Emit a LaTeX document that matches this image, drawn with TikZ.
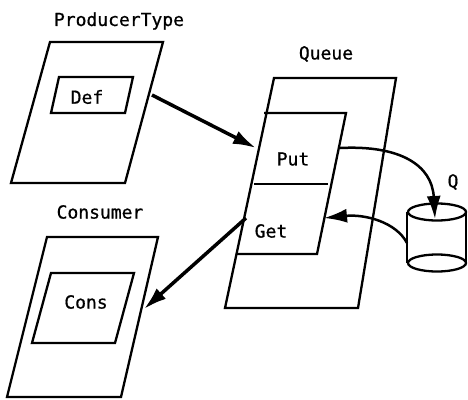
\documentclass[tikz,border=0pt]{standalone}
\usepackage{fontspec}
\setmainfont{DejaVu Sans Mono}
\newfontfamily\lblfont[FakeBold=0.7]{DejaVu Sans Mono}
\usetikzlibrary{arrows.meta}
\begin{document}
\begin{tikzpicture}[x=1pt,y=-1pt,
  outline/.style={line width=2.3pt, line join=miter},
  conn/.style={line width=3.5pt, -{Latex[length=23pt,width=14pt]}},
  lbl/.style={inner sep=0pt, font=\lblfont\fontsize{18}{21}\selectfont}]
\useasboundingbox (0,0) rectangle (468,399);
% ProducerType
\draw[outline] (50,42) -- (163,42) -- (125,183) -- (11,183) -- cycle;
\draw[outline] (59,77) -- (133,77) -- (125,113) -- (51,113) -- cycle;
\node[lbl] (ptlabel) at (119,21) {ProducerType};
\node[lbl] (def) at (87,97) {Def};
% Consumer
\draw[outline] (47,237) -- (158,237) -- (121,397) -- (7,397) -- cycle;
\draw[outline] (51,273) -- (134,273) -- (115,343) -- (32,343) -- cycle;
\node[lbl] (conslabel) at (100,212) {Consumer};
\node[lbl] (cons) at (86,302) {Cons};
% Queue
\draw[outline] (274,78) -- (396,78) -- (358,308) -- (225,308) -- cycle;
\draw[outline] (264,113) -- (346,113) -- (317,254) -- (237,254);
\draw[outline] (254,184) -- (328,184);
\node[lbl] (qlabel) at (326,54) {Queue};
\node[lbl] (put) at (293,159) {Put};
\node[lbl] (get) at (271,231) {Get};
% Cylinder Q
\draw[outline] (407,212) -- (407,263);
\draw[outline] (466,212) -- (466,263);
\draw[outline, fill=white] (437,263) ellipse [x radius=29, y radius=8.5];
\draw[outline] (437,212) ellipse [x radius=29, y radius=8.5];
\node[lbl] (q) at (453,182) {Q};
% connector ends
\coordinate (pOut) at (152,95);
\coordinate (qIn) at (256,148);
\coordinate (qOut) at (246,218);
\coordinate (cIn) at (144,309);
\coordinate (putOut) at (340,148);
\coordinate (cylTop) at (435,219);
\coordinate (cylSide) at (407,243);
\coordinate (getIn) at (324,218);
% connectors
\draw[conn] (pOut) -- (qIn);
\draw[conn] (qOut) -- (cIn);
\draw[conn, line width=2.5pt] (putOut) .. controls (400,145) and (432,165) .. (cylTop);
\draw[conn, line width=2.5pt] (cylSide) .. controls (396,222) and (365,214) .. (getIn);
\end{tikzpicture}
\end{document}
